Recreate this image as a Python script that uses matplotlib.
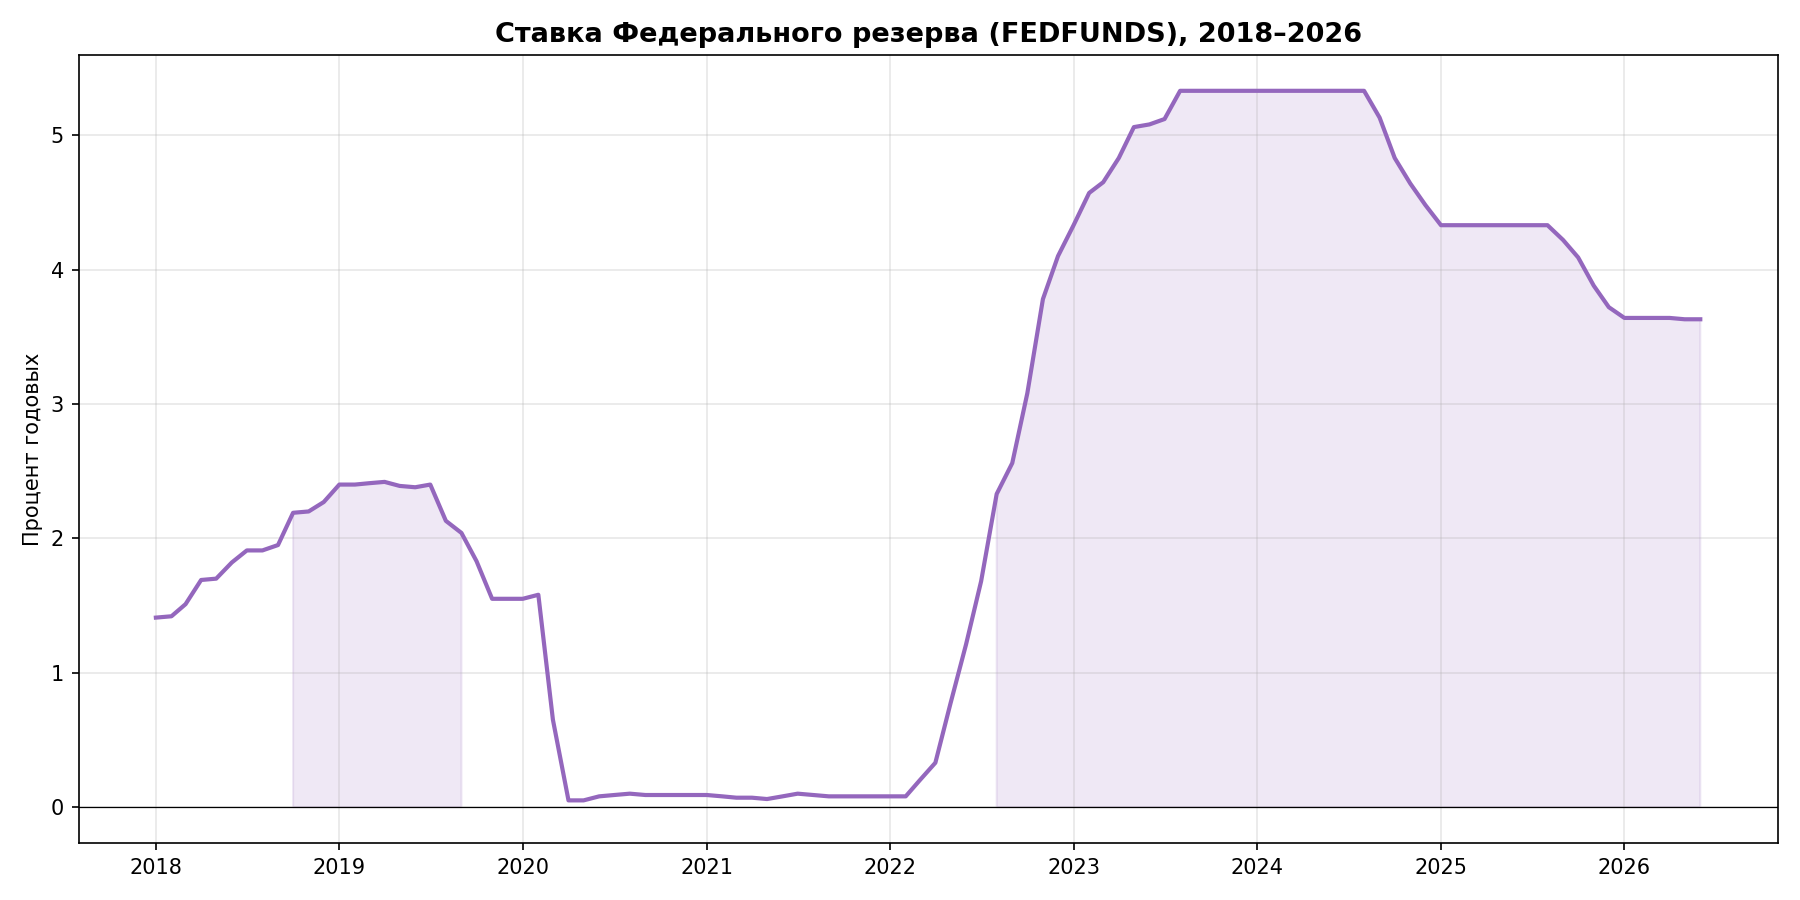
import matplotlib
matplotlib.use("Agg")
import matplotlib.pyplot as plt
import numpy as np
import pandas as pd

start_month = "2018-01-01"
rates_2018 = [1.41, 1.42, 1.51, 1.69, 1.70, 1.82, 1.91, 1.91, 1.95, 2.19, 2.20, 2.27]
rates_2019 = [2.40, 2.40, 2.41, 2.42, 2.39, 2.38, 2.40, 2.13, 2.04, 1.83, 1.55, 1.55]
rates_2020 = [1.55, 1.58, 0.65, 0.05, 0.05, 0.08, 0.09, 0.10, 0.09, 0.09, 0.09, 0.09]
rates_2021 = [0.09, 0.08, 0.07, 0.07, 0.06, 0.08, 0.10, 0.09, 0.08, 0.08, 0.08, 0.08]
rates_2022 = [0.08, 0.08, 0.20, 0.33, 0.77, 1.21, 1.68, 2.33, 2.56, 3.08, 3.78, 4.10]
rates_2023 = [4.33, 4.57, 4.65, 4.83, 5.06, 5.08, 5.12, 5.33, 5.33, 5.33, 5.33, 5.33]
rates_2024 = [5.33, 5.33, 5.33, 5.33, 5.33, 5.33, 5.33, 5.33, 5.13, 4.83, 4.64, 4.48]
rates_2025 = [4.33, 4.33, 4.33, 4.33, 4.33, 4.33, 4.33, 4.33, 4.22, 4.09, 3.88, 3.72]
rates_2026 = [3.64, 3.64, 3.64, 3.64, 3.63, 3.63]

title = "Ставка Федерального резерва (FEDFUNDS), 2018–2026"
ylabel = "Процент годовых"
threshold = 2.0

values = np.array(rates_2018 + rates_2019 + rates_2020 + rates_2021 + rates_2022
                  + rates_2023 + rates_2024 + rates_2025 + rates_2026)
dates = pd.date_range(start_month, periods=len(values), freq="MS")

color = "#9467bd"
fig, ax = plt.subplots(figsize=(12, 6), dpi=150)
ax.plot(dates, values, color=color, linewidth=2)
ax.fill_between(dates, 0, values, where=values >= threshold, color=color, alpha=0.15)
ax.axhline(0, color="black", linewidth=0.6)
ax.grid(True, alpha=0.3)
ax.set_title(title, fontsize=13, fontweight="bold")
ax.set_ylabel(ylabel)
fig.tight_layout()
fig.savefig("out.png", dpi=150)
